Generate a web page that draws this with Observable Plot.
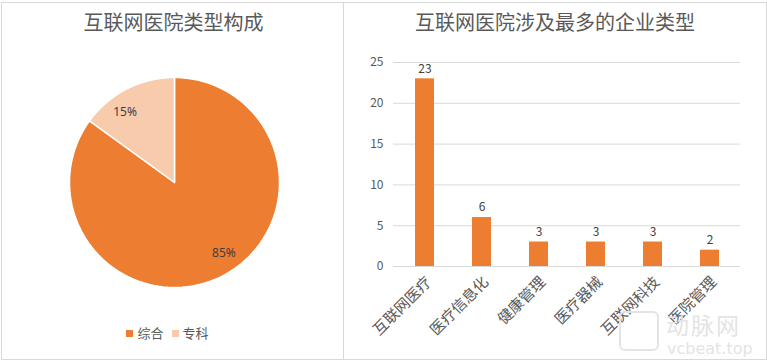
<!DOCTYPE html>
<html><head><meta charset="utf-8">
<script src="https://cdn.jsdelivr.net/npm/d3@7"></script>
<script src="https://cdn.jsdelivr.net/npm/@observablehq/plot@0.6"></script>
<style>
body{margin:0;background:#fff;font-family:"Noto Sans CJK SC","Noto Sans",sans-serif;}
#wrap{position:relative;width:767px;height:361px;overflow:hidden;background:#fff;}
.abs{position:absolute;}
.title{position:absolute;top:8px;font-size:20px;color:#595959;text-align:center;line-height:28px;}
.legend{position:absolute;top:323px;left:0;width:343px;text-align:center;font-size:13px;color:#595959;}
.sw{display:inline-block;width:7px;height:7px;margin:0 4px 1px 0;}
</style></head>
<body><div id="wrap">
<div class="abs" style="left:1px;top:2px;width:764px;height:356px;border:1px solid #d9d9d9;"></div>
<div class="abs" style="left:343px;top:2px;width:1px;height:357px;background:#d9d9d9;"></div>
<div class="title" style="left:0;width:347px;">互联网医院类型构成</div>
<div class="title" style="left:344px;width:422px;">互联网医院涉及最多的企业类型</div>
<div id="pie" class="abs" style="left:67px;top:75px;"></div>
<div id="legend" class="legend"></div>
<div id="bar" class="abs" style="left:343px;top:40px;"></div>
<div class="abs" style="left:619px;top:311px;width:40px;height:40px;border:2px solid #e4e4e4;border-radius:6px;box-sizing:border-box;"></div>
<div class="abs" style="left:666px;top:312px;font-size:23px;line-height:24px;color:#e4e4e4;letter-spacing:2px;">动脉网</div>
<div class="abs" style="left:667px;top:341px;font-size:16px;line-height:16px;color:#e4e4e4;font-family:'DejaVu Sans';">vcbeat.top</div>
</div>
<script>
// Pie data
const pieLabels = ["综合", "专科"];
const pieValues = [85, 15];
const pieColors = ["#ED7D31", "#F8CBAD"];

// Bar data
const barCategories = ["互联网医疗", "医疗信息化", "健康管理", "医疗器械", "互联网科技", "医院管理"];
const barValues = [23, 6, 3, 3, 3, 2];
const yTicks = [0, 5, 10, 15, 20, 25];

// ---- Pie ----
const arcs = d3.pie().sort(null)(pieValues);
const piePts = [];
arcs.forEach((a, i) => {
  piePts.push({slice: pieLabels[i], x: 0, y: 0});
  const n = 120;
  for (let k = 0; k <= n; k++) {
    const t = a.startAngle + (a.endAngle - a.startAngle) * k / n;
    piePts.push({slice: pieLabels[i], x: Math.sin(t), y: Math.cos(t)});
  }
  piePts.push({slice: pieLabels[i], x: 0, y: 0});
});
const total = d3.sum(pieValues);
const pieText = arcs.map((a, i) => {
  const m = (a.startAngle + a.endAngle) / 2 - 0.14;
  return {x: 0.82 * Math.sin(m), y: 0.82 * Math.cos(m), label: Math.round(pieValues[i] / total * 100) + "%"};
});
const pie = Plot.plot({
  width: 214, height: 214, margin: 2,
  x: {domain: [-1, 1], axis: null},
  y: {domain: [-1, 1], axis: null},
  color: {domain: pieLabels, range: pieColors},
  marks: [
    Plot.line(piePts, {x: "x", y: "y", z: "slice", fill: "slice", stroke: "white", strokeWidth: 1.5, curve: "linear"}),
    Plot.text(pieText, {x: "x", y: "y", text: "label", fontSize: 12, fill: "#404040"})
  ]
});
document.getElementById("pie").appendChild(pie);

document.getElementById("legend").innerHTML = pieLabels.map((l, i) =>
  `<span class="sw" style="background:${pieColors[i]}"></span><span style="margin-right:8px">${l}</span>`).join("");

// ---- Bar ----
const barData = barCategories.map((c, i) => ({cat: c, v: barValues[i]}));
const bar = Plot.plot({
  width: 424, height: 321,
  marginLeft: 50, marginRight: 27, marginTop: 22, marginBottom: 95,
  style: {fontFamily: '"Noto Sans CJK SC","Noto Sans",sans-serif', color: "#595959"},
  x: {domain: barCategories, paddingInner: 0.67, paddingOuter: 0.335, label: null, axis: null},
  y: {domain: [0, 25], ticks: yTicks, label: null},
  marks: [
    Plot.gridY(yTicks, {stroke: "#d9d9d9", strokeOpacity: 1}),
    Plot.axisY(yTicks, {tickSize: 0, tickPadding: 10, fontSize: 12, fill: "#595959", label: null}),
    Plot.barY(barData, {x: "cat", y: "v", fill: "#ED7D31"}),
    Plot.text(barData, {x: "cat", y: "v", text: d => String(d.v), dy: -10, fontSize: 12, fill: "#404040"}),
    Plot.text(barData, {x: "cat", frameAnchor: "bottom", text: "cat", dy: 13, dx: 4, rotate: -45, textAnchor: "end", lineAnchor: "middle", fontSize: 15, fill: "#595959"})
  ]
});
document.getElementById("bar").appendChild(bar);
</script>
</body></html>
